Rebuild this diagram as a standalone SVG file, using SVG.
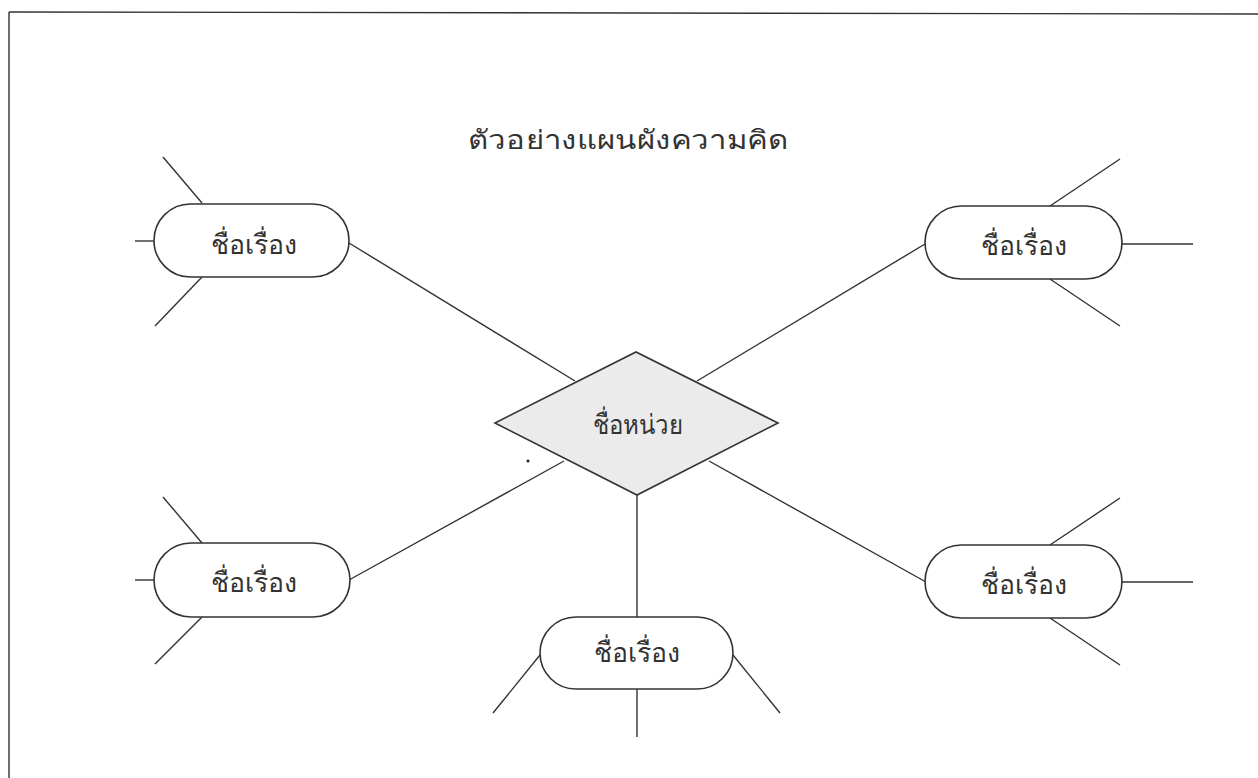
<svg xmlns="http://www.w3.org/2000/svg" width="1258" height="778" viewBox="0 0 1258 778">
<style>
.ln{stroke:#333;stroke-width:1.4;fill:none}
.pill{fill:#fff;stroke:#333;stroke-width:1.6}
.dia{fill:#ebebeb;stroke:#333;stroke-width:1.6}
.t{font-family:"Noto Sans","DejaVu Sans","Liberation Sans",sans-serif;fill:#333;text-anchor:middle;font-weight:300}
.lbl{font-size:27px}
.title{font-size:26px}
</style>
<rect width="1258" height="778" fill="#fff"/>
<g id="frame" class="ln">
<line x1="9" y1="12" x2="1258" y2="14"/>
<line x1="9" y1="12" x2="9" y2="778"/>
</g>
<text id="title" class="t title" x="628" y="149" textLength="320" lengthAdjust="spacingAndGlyphs">ตัวอย่างแผนผังความคิด</text>
<g id="connectors" class="ln">
<line x1="349" y1="243" x2="575" y2="381"/>
<line x1="697" y1="381" x2="925" y2="244"/>
<line x1="349" y1="580" x2="564" y2="461"/>
<line x1="709" y1="461" x2="926" y2="582"/>
<line x1="637" y1="495" x2="637" y2="617"/>
<line x1="163" y1="157" x2="202" y2="203"/>
<line x1="135" y1="241" x2="154" y2="241"/>
<line x1="202" y1="277" x2="155" y2="326"/>
<line x1="1050" y1="206" x2="1120" y2="159"/>
<line x1="1122" y1="244" x2="1193" y2="244"/>
<line x1="1050" y1="279" x2="1120" y2="326"/>
<line x1="163" y1="497" x2="202" y2="543"/>
<line x1="135" y1="580" x2="154" y2="580"/>
<line x1="202" y1="617" x2="155" y2="664"/>
<line x1="1050" y1="545" x2="1120" y2="498"/>
<line x1="1122" y1="582" x2="1193" y2="582"/>
<line x1="1050" y1="618" x2="1120" y2="665"/>
<line x1="540" y1="655" x2="493" y2="713"/>
<line x1="733" y1="655" x2="780" y2="713"/>
<line x1="637" y1="689" x2="637" y2="737"/>
</g>
<g id="center">
<polygon class="dia" points="495,423 636,352 778,423 637,495"/>
<text class="t lbl" x="638" y="434" textLength="90" lengthAdjust="spacingAndGlyphs">ชื่อหน่วย</text>
</g>
<circle cx="528" cy="461" r="1.5" fill="#222"/>
<g id="topic-tl">
<rect class="pill" x="154" y="204" width="195" height="73" rx="36.5"/>
<text class="t lbl" x="254" y="254" textLength="86" lengthAdjust="spacingAndGlyphs">ชื่อเรื่อง</text>
</g>
<g id="topic-tr">
<rect class="pill" x="925" y="206" width="197" height="73" rx="36.5"/>
<text class="t lbl" x="1024" y="255" textLength="86" lengthAdjust="spacingAndGlyphs">ชื่อเรื่อง</text>
</g>
<g id="topic-bl">
<rect class="pill" x="154" y="543" width="196" height="74" rx="37"/>
<text class="t lbl" x="254" y="592" textLength="86" lengthAdjust="spacingAndGlyphs">ชื่อเรื่อง</text>
</g>
<g id="topic-br">
<rect class="pill" x="925" y="545" width="197" height="73" rx="36.5"/>
<text class="t lbl" x="1024" y="594" textLength="86" lengthAdjust="spacingAndGlyphs">ชื่อเรื่อง</text>
</g>
<g id="topic-b">
<rect class="pill" x="540" y="617" width="193" height="72" rx="36"/>
<text class="t lbl" x="637" y="662" textLength="86" lengthAdjust="spacingAndGlyphs">ชื่อเรื่อง</text>
</g>
</svg>
